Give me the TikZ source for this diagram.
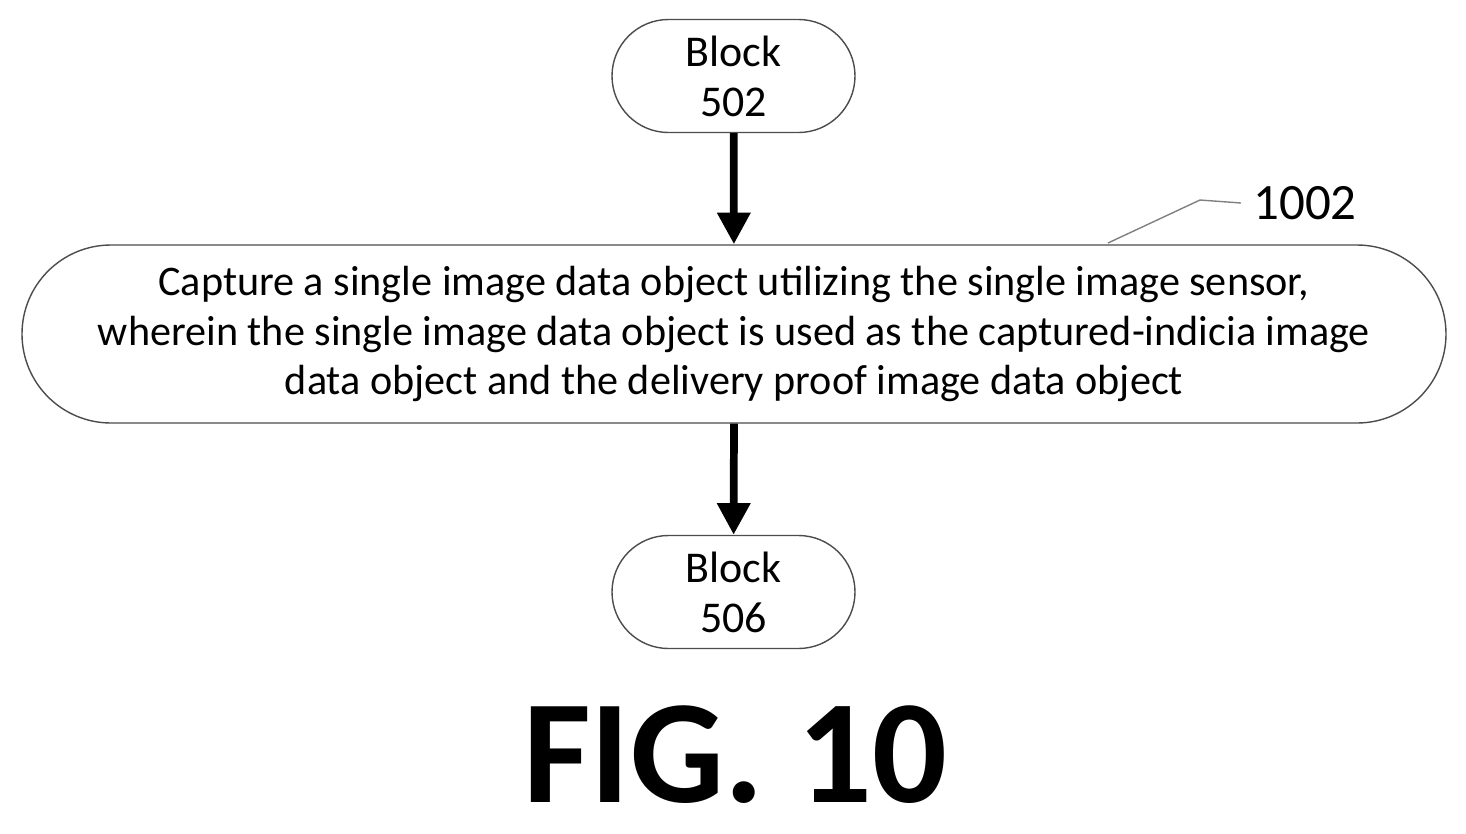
\documentclass[tikz,border=0pt]{standalone}
\usepackage{fontspec}
\setmainfont{Carlito}
\usetikzlibrary{shapes.misc,arrows.meta,positioning}
\tikzset{->, % directed connectors
>={Triangle[length=9pt,width=9pt]}, % solid arrow heads
}
\tikzset{
term/.style={rounded rectangle, draw=black!70, thin, inner sep=0pt, minimum width=2.43cm, minimum height=1.13cm, align=center, font=\fontsize{12.5}{14.2}\selectfont},
process/.style={rounded rectangle, draw=black!70, thin, inner sep=0pt, minimum width=14.24cm, minimum height=1.78cm, align=center, font=\fontsize{12}{14.2}\selectfont},
}

\begin{document}
\begin{tikzpicture}
\useasboundingbox (0,0) rectangle (14.66,8.33);
\node[term] (502) at (7.335,7.57) {Block\\502};
\node[process] (1002) at (7.34,4.99) {Capture a single image data object utilizing the single image sensor,\\wherein the single image data object is used as the captured-indicia image\\data object and the delivery proof image data object};
\node[term] (506) at (7.335,2.41) {Block\\506};
\node[font=\fontsize{14.5}{16}\selectfont] (lbl) at (13.05,6.30) {1002};
\node[font=\bfseries\fontsize{42}{46}\selectfont] (fig) at (7.35,0.78) {FIG. 10};
\coordinate (bend) at (12.0,6.33);
\draw[line width=2.2pt] (502) -- (1002);
\draw[line width=2.2pt] (1002) -- (506);
\draw[-, gray, thin] (11.08,5.90) -- (bend) -- (lbl.west);
\end{tikzpicture}
\end{document}
